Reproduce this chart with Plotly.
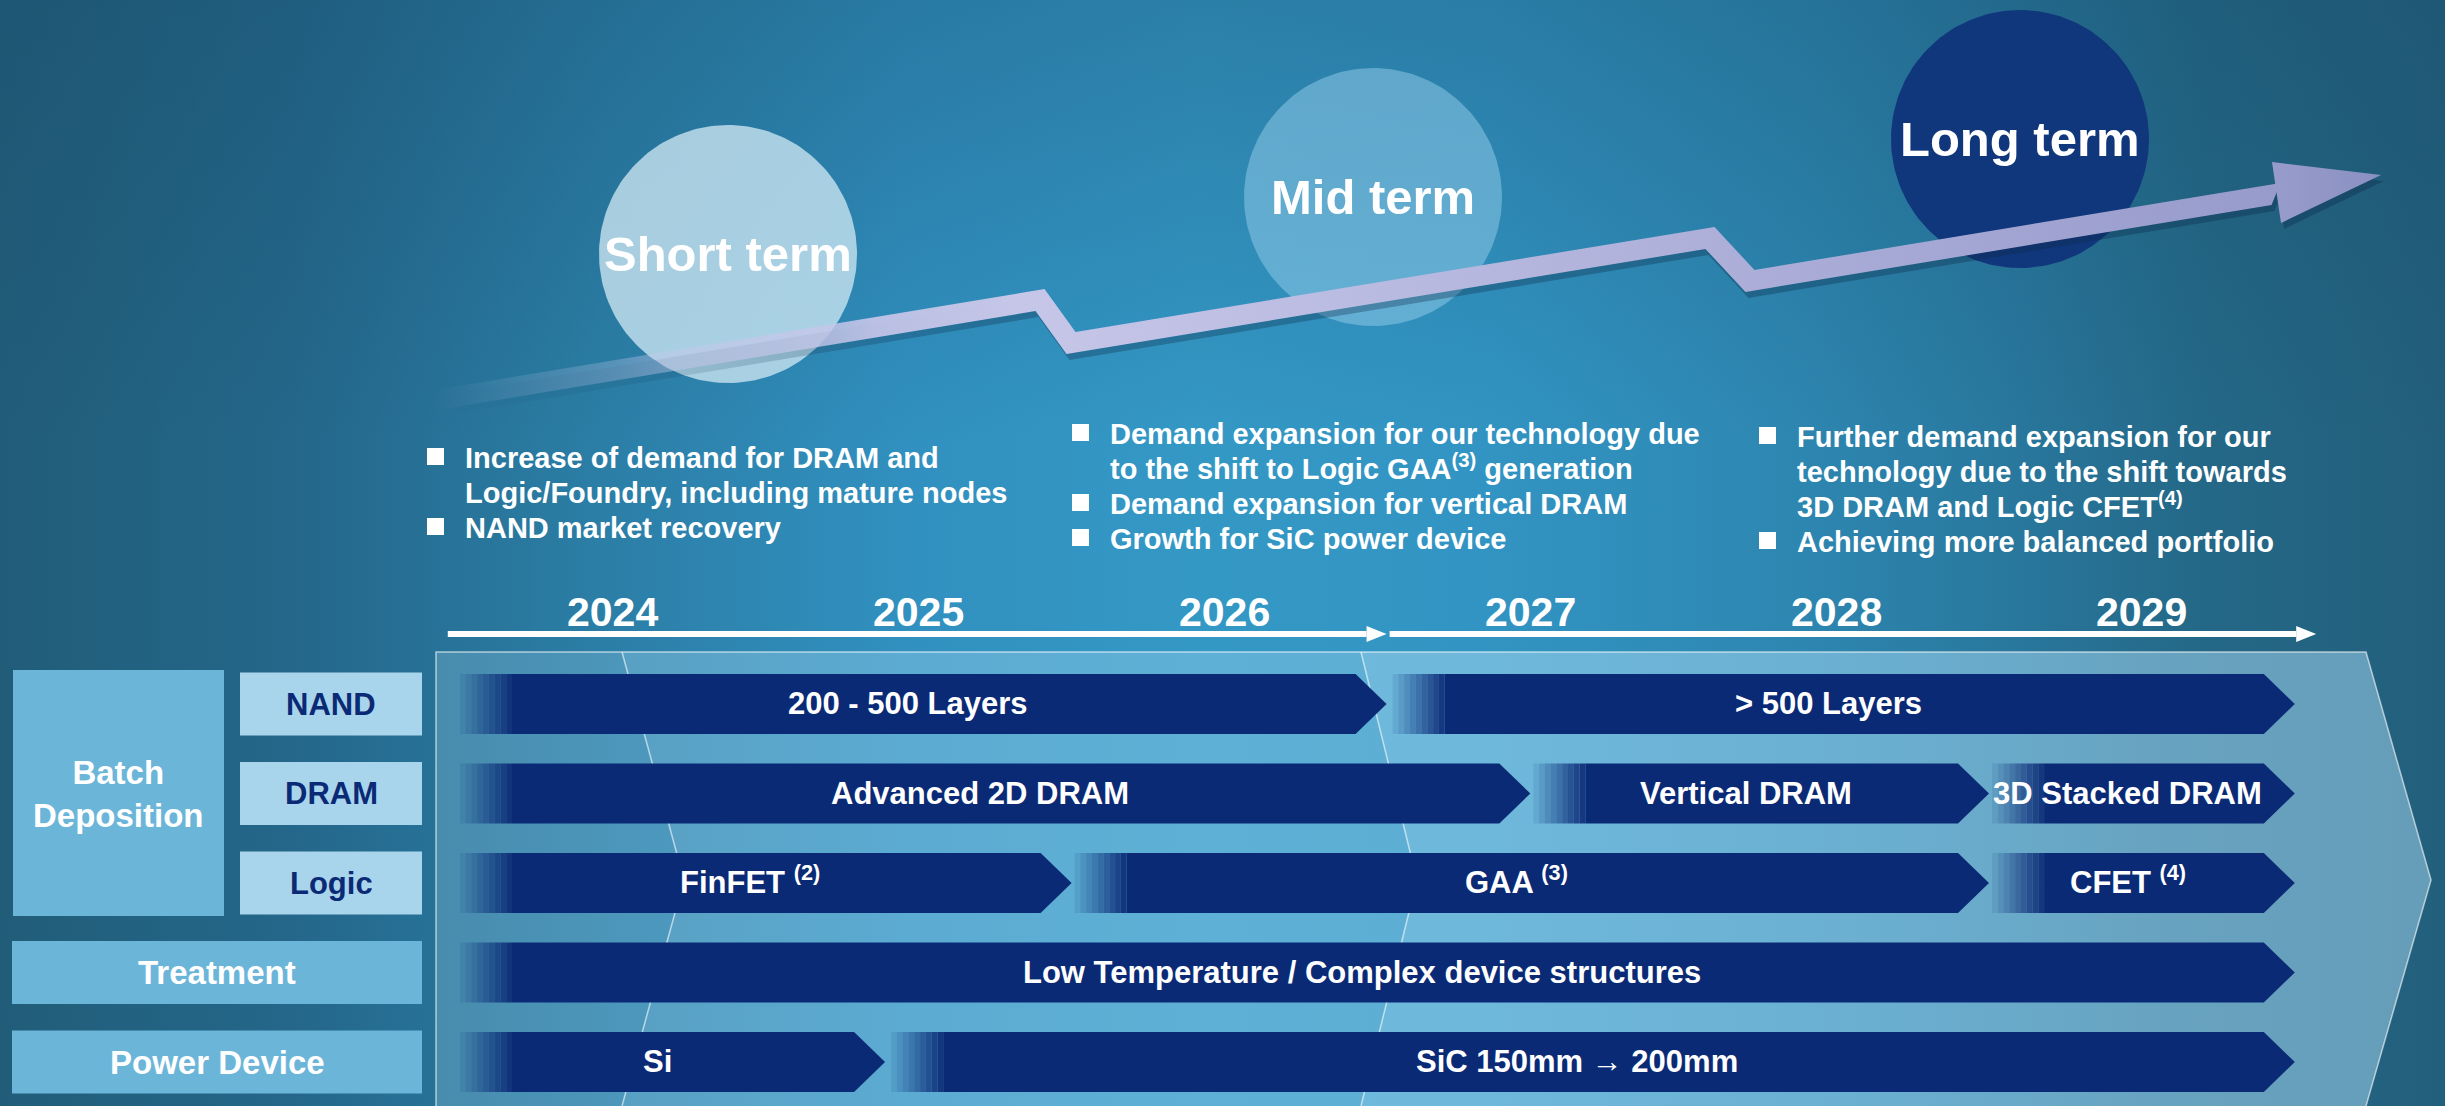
import numpy as np
import plotly.graph_objects as go

# ---------------- data ----------------
years = [2024, 2025, 2026, 2027, 2028, 2029]

terms = ["Short term", "Mid term", "Long term"]
short_notes = [["Increase of demand for DRAM and", "Logic/Foundry, including mature nodes"],
               ["NAND market recovery"]]
mid_notes = [["Demand expansion for our technology due",
              "to the shift to Logic GAA<sup>(3)</sup> generation"],
             ["Demand expansion for vertical DRAM"],
             ["Growth for SiC power device"]]
long_notes = [["Further demand expansion for our", "technology due to the shift towards",
               "3D DRAM and Logic CFET<sup>(4)</sup>"],
              ["Achieving more balanced portfolio"]]

rows = ["NAND", "DRAM", "Logic", "Treatment", "Power Device"]
group_name = "Batch<br>Deposition"
group_rows = [0, 1, 2]

item_labels = ["200 - 500 Layers", "> 500 Layers",
               "Advanced 2D DRAM", "Vertical DRAM", "3D Stacked DRAM",
               "FinFET <sup>(2)</sup>", "GAA <sup>(3)</sup>", "CFET <sup>(4)</sup>",
               "Low Temperature / Complex device structures",
               "Si", "SiC 150mm \u2192 200mm"]
item_rows = [0, 0, 1, 1, 1, 2, 2, 2, 3, 4, 4]
item_start = [2024.0, 2027.05, 2024.0, 2027.51, 2029.01, 2024.0, 2026.01, 2029.01, 2024.0, 2024.0, 2025.41]
item_end = [2027.03, 2030.0, 2027.5, 2029.0, 2030.0, 2026.0, 2029.0, 2030.0, 2030.0, 2025.39, 2030.0]

timeline_spans = [(2023.96, 2027.03), (2027.04, 2030.07)]

# ---------------- layout constants ----------------
W, H = 2445, 1106
X2024, PX_YEAR = 460, 305.8      # pixel position of 2024.0, pixels per year
ROW0, ROW_PX = 704, 89.5         # pixel centre of row 0, pixels per row
FONT = "Liberation Sans, Arial, Helvetica, sans-serif"
NAVY = "#0b2a76"
WHITE = "#ffffff"

BAR_H = 30 / ROW_PX
TIP = 31 / PX_YEAR
FADE = 0.17
N_FADE = 9


def bold(size, color=WHITE):
    return dict(family=FONT, size=size, color=color, weight="bold")


def low_anchor(size):
    # keep the baseline steady when a line carries a superscript
    return dict(yanchor="bottom", yshift=-round(0.575 * size + 1))


fig = go.Figure()

# background (pixel axes x2/y2)
fig.add_trace(go.Scatter(
    x=[0, W, W, 0, 0], y=[0, 0, H, H, 0], xaxis="x2", yaxis="y2",
    mode="lines", fill="toself", line=dict(width=0), hoverinfo="skip",
    fillgradient=dict(type="horizontal", start=0, stop=W, colorscale=[
        [0, "#215d79"], [0.12, "#24678a"], [0.245, "#2b7ea6"], [0.37, "#3190bf"],
        [0.49, "#3498c5"], [0.61, "#3294c2"], [0.74, "#2d86b0"], [0.82, "#29789e"],
        [0.9, "#246887"], [1, "#225f7c"]]),
))
fig.add_trace(go.Scatter(
    x=[0, W, W, 0, 0], y=[0, 0, H, H, 0], xaxis="x2", yaxis="y2",
    mode="lines", fill="toself", line=dict(width=0), hoverinfo="skip",
    fillgradient=dict(type="vertical", start=0, stop=H, colorscale=[
        [0, "rgba(20,70,100,0.3)"], [0.4, "rgba(20,70,100,0)"], [1, "rgba(20,70,100,0)"]]),
))

# term bubbles
bubble_cx = [728, 1373, 2020]
bubble_cy = [254, 197, 139]
bubble_col = ["rgba(200,228,240,0.8)", "rgba(150,205,235,0.5)", "#10377b"]
R = 129
t = np.linspace(0, 2 * np.pi, 181)
for cx, cy, col in zip(bubble_cx, bubble_cy, bubble_col):
    fig.add_trace(go.Scatter(
        x=cx + R * np.cos(t), y=cy + R * np.sin(t), xaxis="x2", yaxis="y2",
        mode="lines", fill="toself", fillcolor=col, line=dict(width=0), hoverinfo="skip"))

# growth arrow
spine = np.array([(436, 400), (1040, 300), (1071, 343), (1710, 238), (1750, 281), (2276, 194)], float)
off = np.array([4.5, -11.0])
shaft = np.vstack([spine + off, (spine - off)[::-1], (spine + off)[:1]])
head = np.array([(2272, 162), (2381, 175), (2281, 223), (2272, 162)], float)
shadow = np.array([3, 6])
for poly, grad in [(shaft + shadow, [[0, "rgba(10,40,70,0)"], [0.3, "rgba(10,40,70,0.3)"], [1, "rgba(10,40,70,0.35)"]]),
                   (head + shadow, [[0, "rgba(10,40,70,0.35)"], [1, "rgba(10,40,70,0.35)"]])]:
    fig.add_trace(go.Scatter(
        x=poly[:, 0], y=poly[:, 1], xaxis="x2", yaxis="y2", mode="lines", fill="toself",
        line=dict(width=0), hoverinfo="skip",
        fillgradient=dict(type="horizontal", colorscale=grad)))
fig.add_trace(go.Scatter(
    x=shaft[:, 0], y=shaft[:, 1], xaxis="x2", yaxis="y2", mode="lines", fill="toself",
    line=dict(width=0), hoverinfo="skip",
    fillgradient=dict(type="horizontal", start=431, stop=2285, colorscale=[
        [0, "rgba(200,200,235,0)"], [0.1, "rgba(200,200,235,0.3)"], [0.24, "rgba(198,198,233,0.92)"],
        [0.32, "#c6c6e8"], [0.65, "#b0b2db"], [1, "#979bcb"]])))
fig.add_trace(go.Scatter(
    x=head[:, 0], y=head[:, 1], xaxis="x2", yaxis="y2", mode="lines", fill="toself",
    line=dict(width=0), hoverinfo="skip",
    fillgradient=dict(type="horizontal", colorscale=[[0, "#989ccb"], [1, "#8a90c3"]])))

# invisible anchor trace for the year/row axes
fig.add_trace(go.Scatter(x=[y + 0.5 for y in years], y=[0] * len(years), mode="markers",
                         marker=dict(opacity=0), hoverinfo="skip"))

shapes = []
annotations = []

# timeline panel (pixel axes)
sections = [
    ("M 436,652 L 622,652 L 684,880 L 622,1106 L 436,1106 Z", "rgba(170,220,245,0.25)"),
    ("M 622,652 L 1361,652 L 1417,880 L 1361,1106 L 622,1106 L 684,880 Z", "rgba(170,220,245,0.36)"),
    ("M 1361,652 L 2366,652 L 2431,880 L 2366,1106 L 1361,1106 L 1417,880 Z", "rgba(170,220,245,0.5)"),
]
for path, col in sections:
    shapes.append(dict(type="path", path=path, xref="x2", yref="y2", fillcolor=col, line=dict(width=0)))
for path in ["M 622,652 L 684,880 L 622,1106", "M 1361,652 L 1417,880 L 1361,1106",
             "M 436,1106 L 436,652 L 2366,652 L 2431,880 L 2366,1106"]:
    shapes.append(dict(type="path", path=path, xref="x2", yref="y2",
                       line=dict(color="rgba(255,255,255,0.6)", width=1.5)))

# left row headers
hh = 31.5 / ROW_PX
for r in range(len(rows)):
    if r in group_rows:
        shapes.append(dict(type="rect", xref="x2", yref="y", x0=240, x1=422, y0=r - hh, y1=r + hh,
                           fillcolor="#a9d5ec", line=dict(width=0)))
        annotations.append(dict(x=331, y=r, xref="x2", yref="y", text=rows[r], showarrow=False,
                                font=bold(31, NAVY)))
    else:
        shapes.append(dict(type="rect", xref="x2", yref="y", x0=12, x1=422, y0=r - hh, y1=r + hh,
                           fillcolor="#6bb5d9", line=dict(width=0)))
        annotations.append(dict(x=217, y=r, xref="x2", yref="y", text=rows[r], showarrow=False,
                                font=bold(33)))
shapes.append(dict(type="rect", xref="x2", yref="y", x0=13, x1=224,
                   y0=min(group_rows) - 0.38, y1=max(group_rows) + 0.37,
                   fillcolor="#6bb5d9", line=dict(width=0)))
annotations.append(dict(x=118, y=float(np.mean(group_rows)), xref="x2", yref="y", text=group_name,
                        showarrow=False, font=bold(33)))

# roadmap bars
for lab, r, x0, x1 in zip(item_labels, item_rows, item_start, item_end):
    w = FADE / N_FADE
    for i in range(N_FADE):
        shapes.append(dict(type="rect", xref="x", yref="y", x0=x0 + i * w, x1=x0 + (i + 1) * w,
                           y0=r - BAR_H, y1=r + BAR_H, fillcolor=NAVY,
                           opacity=(i + 1) / (N_FADE + 1), line=dict(width=0)))
    xs = x0 + FADE
    path = (f"M {xs},{r - BAR_H} L {x1 - TIP},{r - BAR_H} L {x1},{r} "
            f"L {x1 - TIP},{r + BAR_H} L {xs},{r + BAR_H} Z")
    shapes.append(dict(type="path", path=path, xref="x", yref="y", fillcolor=NAVY, line=dict(width=0)))
    annotations.append(dict(x=(x0 + x1 - TIP) / 2, y=r, xref="x", yref="y", text=lab, showarrow=False,
                            font=bold(31), **low_anchor(31)))

# year axis arrows
AX_Y = 634
HEAD_L = 20 / PX_YEAR
for a, b in timeline_spans:
    shapes.append(dict(type="line", xref="x", yref="y2", x0=a, x1=b - HEAD_L, y0=AX_Y, y1=AX_Y,
                       line=dict(color=WHITE, width=6)))
    shapes.append(dict(type="path", xref="x", yref="y2",
                       path=f"M {b - HEAD_L},{AX_Y - 8} L {b},{AX_Y} L {b - HEAD_L},{AX_Y + 8} Z",
                       fillcolor=WHITE, line=dict(width=0)))
for y in years:
    annotations.append(dict(x=y + 0.5, y=612, xref="x", yref="y2", text=str(y), showarrow=False,
                            font=bold(41)))

# term bubble labels
for name, cx, cy in zip(terms, bubble_cx, bubble_cy):
    annotations.append(dict(x=cx, y=cy, xref="x2", yref="y2", text=name, showarrow=False,
                            font=bold(49)))

# bullet notes
note_x = [463, 1108, 1795]
note_top = [458, 434, 437]
LINE = 35
for notes, nx, ny in zip([short_notes, mid_notes, long_notes], note_x, note_top):
    k = 0
    for bullet in notes:
        y0 = ny + k * LINE
        shapes.append(dict(type="rect", xref="x2", yref="y2", x0=nx - 36, x1=nx - 19,
                           y0=y0 - 10, y1=y0 + 7, fillcolor=WHITE, line=dict(width=0)))
        for line in bullet:
            annotations.append(dict(x=nx, y=ny + k * LINE, xref="x2", yref="y2", text=line,
                                    showarrow=False, xanchor="left", font=bold(29), **low_anchor(29)))
            k += 1

ax_common = dict(visible=False, fixedrange=True, showgrid=False, zeroline=False)
fig.update_layout(
    width=W, height=H,
    margin=dict(l=0, r=0, t=0, b=0),
    paper_bgcolor="#2a7aa0", plot_bgcolor="rgba(0,0,0,0)",
    showlegend=False,
    xaxis=dict(domain=[0, 1], anchor="y",
               range=[2024 - X2024 / PX_YEAR, 2024 + (W - X2024) / PX_YEAR], **ax_common),
    yaxis=dict(domain=[0, 1], anchor="x",
               range=[(H - ROW0) / ROW_PX, -ROW0 / ROW_PX], **ax_common),
    xaxis2=dict(domain=[0, 1], anchor="y2", range=[0, W], **ax_common),
    yaxis2=dict(domain=[0, 1], anchor="x2", range=[H, 0], **ax_common),
    shapes=shapes,
    annotations=annotations,
    font=dict(family=FONT),
)

fig.write_html("out.html", config={"displayModeBar": False},
               post_script="document.body.style.margin='0';document.body.style.overflow='hidden';")
